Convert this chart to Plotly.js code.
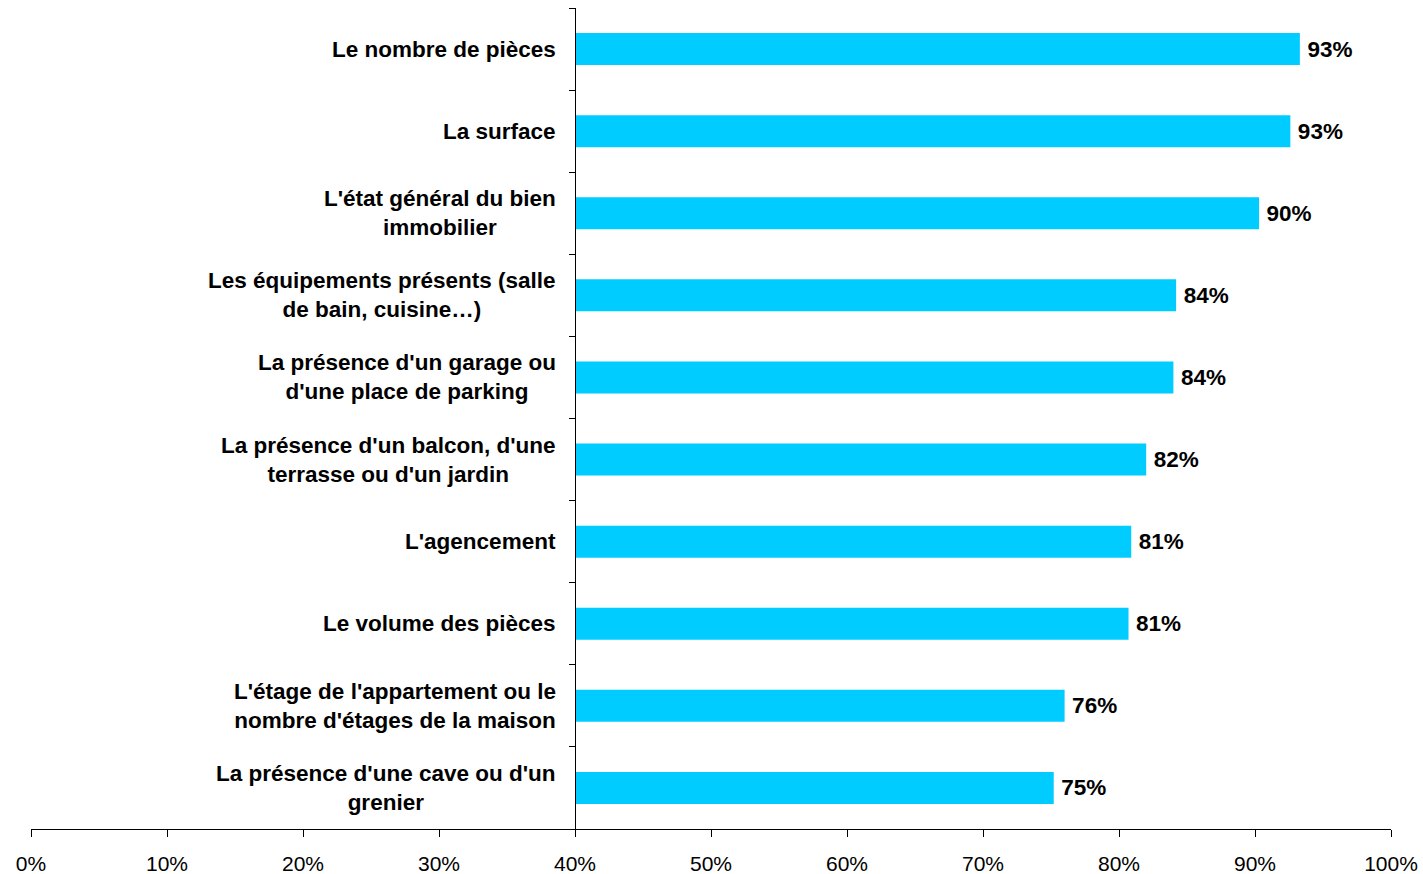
<!DOCTYPE html>
<html>
<head>
<meta charset="utf-8">
<script src="https://cdn.plot.ly/plotly-3.0.1.min.js"></script>
<style>html,body{margin:0;padding:0;background:#fff;}#chart{width:1423px;height:874px;}</style>
</head>
<body>
<div id="chart"></div>
<script>
// Categories (top to bottom)
const categories = [
  "Le nombre de pièces",
  "La surface",
  "L'état général du bien<br>immobilier",
  "Les équipements présents (salle<br>de bain, cuisine…)",
  "La présence d'un garage ou<br>d'une place de parking",
  "La présence d'un balcon, d'une<br>terrasse ou d'un jardin",
  "L'agencement",
  "Le volume des pièces",
  "L'étage de l'appartement ou le<br>nombre d'étages de la maison",
  "La présence d'une cave ou d'un<br>grenier"
];
// Percentages
const values = [93.3, 92.6, 90.3, 84.2, 84.0, 82.0, 80.9, 80.7, 76.0, 75.2];
// Axis crossing value (bars start here)
const axisCross = 40;
const xTicks = [0, 10, 20, 30, 40, 50, 60, 70, 80, 90, 100];

const FONT = "'Liberation Sans', Arial, sans-serif";

const trace = {
  type: 'bar',
  orientation: 'h',
  y: categories,
  x: values.map(v => v - axisCross),
  base: axisCross,
  customdata: values,
  texttemplate: '\u2009%{customdata:.0f}%',
  textposition: 'outside',
  cliponaxis: false,
  textfont: {family: FONT, size: 22.5, color: '#000', weight: 'bold'},
  marker: {color: '#00CCFF', line: {width: 0}},
  hoverinfo: 'skip'
};

const annotations = categories.map(c => ({
  x: axisCross, xref: 'x',
  y: c, yref: 'y',
  xanchor: 'right', yanchor: 'middle',
  xshift: -17,
  align: 'center',
  text: c,
  showarrow: false,
  font: {family: FONT, size: 22.5, color: '#000', weight: 'bold'}
}));

const layout = {
  width: 1423, height: 874,
  margin: {l: 31, r: 32, t: 8, b: 45},
  paper_bgcolor: '#fff', plot_bgcolor: '#fff',
  showlegend: false,
  bargap: 0.61,
  font: {family: FONT, color: '#000'},
  xaxis: {
    range: [0, 100],
    tickvals: xTicks,
    ticktext: xTicks.map(t => t + '%'),
    ticks: 'outside', ticklen: 7, tickwidth: 1, tickcolor: '#000',
    showline: true, linecolor: '#000', linewidth: 1,
    showgrid: false, zeroline: false,
    ticklabelstandoff: 9,
    tickfont: {family: FONT, size: 21, color: '#000'},
    fixedrange: true
  },
  yaxis: {
    type: 'category',
    range: [categories.length - 0.5, -0.5],
    anchor: 'free', position: axisCross / 100,
    tickson: 'boundaries',
    ticks: 'outside', ticklen: 6, tickwidth: 1, tickcolor: '#000',
    showticklabels: false,
    showline: true, linecolor: '#000', linewidth: 1,
    showgrid: false, zeroline: false,
    fixedrange: true
  },
  annotations: annotations
};

Plotly.newPlot('chart', [trace], layout, {displayModeBar: false, staticPlot: true});
</script>
</body>
</html>
